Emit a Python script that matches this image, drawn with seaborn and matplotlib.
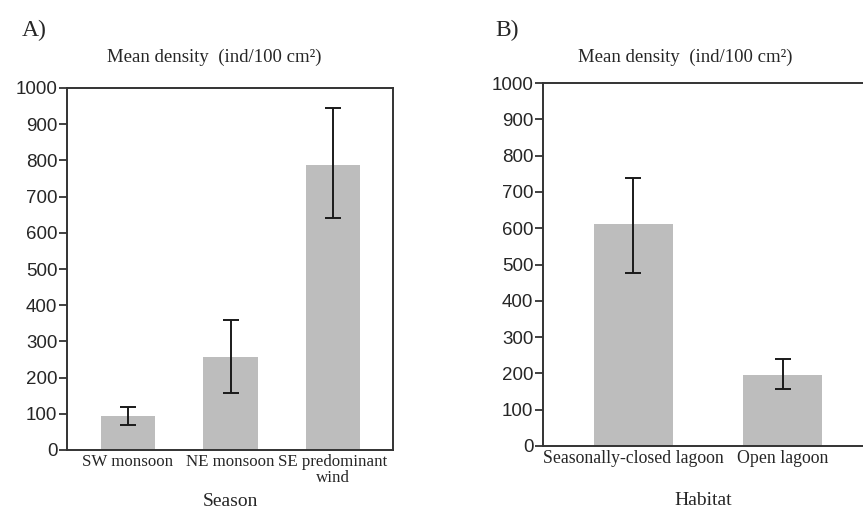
import numpy as np
import pandas as pd
import matplotlib
matplotlib.use("Agg")
import matplotlib.pyplot as plt
import seaborn as sns

# data
seasons = ["SW monsoon", "NE monsoon", "SE predominant\nwind"]
season_mean = [93, 258, 788]
season_low = [70, 158, 641]
season_high = [120, 360, 944]

habitats = ["Seasonally-closed lagoon", "Open lagoon"]
habitat_mean = [612, 196]
habitat_low = [476, 157]
habitat_high = [739, 239]

yticks = [0, 100, 200, 300, 400, 500, 600, 700, 800, 900, 1000]

sns.set_theme(style="white")
plt.rcParams["font.family"] = ["Liberation Serif", "DejaVu Serif"]

W, H = 863, 513
fig = plt.figure(figsize=(W / 100, H / 100), dpi=100)

bar_color = "#bdbdbd"
spine_color = "#333333"
serif = "Liberation Serif"
sans = "Liberation Sans"


def panel(rect, cats, means, lows, highs, xlim, xlabel, labelpad, xfs, show_right):
    ax = fig.add_axes(rect)
    df = pd.DataFrame({"cat": cats, "mean": means})
    sns.barplot(data=df, x="cat", y="mean", color=bar_color, width=0.53,
                saturation=1, ax=ax)
    for p in ax.patches:
        p.set_edgecolor("none")
    pos = np.arange(len(cats))
    m = np.array(means)
    yerr = [m - np.array(lows), np.array(highs) - m]
    ax.errorbar(pos, m, yerr=yerr, fmt="none", ecolor="#1a1a1a",
                elinewidth=1.4, capsize=5.5, capthick=1.4)
    ax.set_xlim(*xlim)
    ax.set_ylim(0, 1000)
    ax.set_yticks(yticks)
    ax.set_yticklabels([str(t) for t in yticks], fontfamily=sans, fontsize=13.5)
    ax.set_xticks(pos)
    ax.set_xticklabels(cats, fontfamily=serif, fontsize=xfs, linespacing=1.0)
    ax.tick_params(axis="x", length=0, pad=3)
    ax.tick_params(axis="y", length=6, width=1.3, color=spine_color,
                   direction="out", pad=1, left=True)
    ax.set_ylabel("")
    ax.set_xlabel(xlabel, fontfamily=serif, fontsize=14, labelpad=labelpad)
    for side in ["left", "right", "top", "bottom"]:
        ax.spines[side].set_color(spine_color)
        ax.spines[side].set_linewidth(1.4)
    ax.spines["right"].set_visible(show_right)
    return ax


axA = panel([67 / W, 1 - 450 / H, (393 - 67) / W, (450 - 88) / H],
            seasons, season_mean, season_low, season_high,
            (-0.595, 2.585), "Season", 5, 12.2, True)
axB = panel([543 / W, 1 - 446 / H, (863 - 543) / W, (446 - 83) / H],
            habitats, habitat_mean, habitat_low, habitat_high,
            (-0.607, 1.54), "Habitat", 18, 12.8, False)

fig.text(22 / W, 1 - 30 / H, "A)", fontfamily=serif, fontsize=17,
         va="center", ha="left")
fig.text(495 / W, 1 - 30 / H, "B)", fontfamily=serif, fontsize=17,
         va="center", ha="left")
fig.text(214 / W, 1 - 57 / H, "Mean density  (ind/100 cm\u00b2)",
         fontfamily=serif, fontsize=13.5, va="center", ha="center")
fig.text(685 / W, 1 - 57 / H, "Mean density  (ind/100 cm\u00b2)",
         fontfamily=serif, fontsize=13.5, va="center", ha="center")

fig.savefig("out.png", dpi=100)
